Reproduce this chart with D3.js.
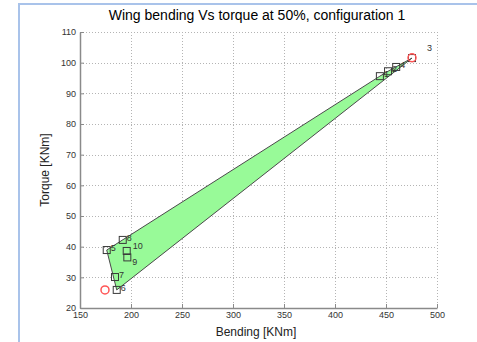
<!DOCTYPE html>
<html>
<head>
<meta charset="utf-8">
<script src="https://cdn.jsdelivr.net/npm/d3@7"></script>
<style>
  html, body { margin: 0; padding: 0; background: #fff; }
  svg { display: block; font-family: "Liberation Sans", Arial, sans-serif; }
</style>
</head>
<body>
<svg id="chart" width="477" height="342"></svg>
<script>
// ---- data ----
const pointLabels = ["1", "2", "3", "4", "5", "6", "7", "8", "9", "10"];
const bending = [444, 452, 475.5, 460, 176.2, 186, 184.3, 191.9, 196.4, 195.8];
const torque  = [95.6, 97.2, 101.5, 98.6, 38.9, 25.9, 30.1, 42.2, 36.5, 38.6];
const markBending = [174.5, 475.5];
const markTorque  = [25.9, 101.6];
const xTicks = [150, 200, 250, 300, 350, 400, 450, 500];
const yTicks = [20, 30, 40, 50, 60, 70, 80, 90, 100, 110];
const titleText = "Wing bending Vs torque at 50%, configuration 1";
const xLabel = "Bending [KNm]";
const yLabel = "Torque [KNm]";

// ---- layout ----
const svg = d3.select("#chart");
const L = 80, R = 437, T = 32, B = 308;
const x = d3.scaleLinear().domain([150, 500]).range([L, R]);
const y = d3.scaleLinear().domain([20, 110]).range([B, T]);

// frame (light blue border)
svg.append("line").attr("x1", 19).attr("x2", 19).attr("y1", 3).attr("y2", 342)
  .attr("stroke", "#a9c3ea").attr("stroke-width", 2);
svg.append("line").attr("x1", 18).attr("x2", 477).attr("y1", 4).attr("y2", 4)
  .attr("stroke", "#a9c3ea").attr("stroke-width", 2);

// grid
const grid = svg.append("g").attr("stroke", "#b4b4b4").attr("stroke-width", 1)
  .attr("stroke-dasharray", "1,2");
grid.selectAll("line.v").data(xTicks.slice(1)).join("line")
  .attr("x1", d => Math.round(x(d)) + 0.5).attr("x2", d => Math.round(x(d)) + 0.5)
  .attr("y1", T).attr("y2", B);
grid.selectAll("line.h").data(yTicks.slice(1)).join("line")
  .attr("x1", L).attr("x2", R)
  .attr("y1", d => Math.round(y(d)) + 0.5).attr("y2", d => Math.round(y(d)) + 0.5);

// polygon envelope (convex hull of the points)
const pts = bending.map((b, i) => [x(b), y(torque[i])]);
const hull = d3.polygonHull(pts);
svg.append("path")
  .attr("d", "M" + hull.map(p => p.join(",")).join("L") + "Z")
  .attr("fill", "#98fa98").attr("stroke", "#4a4a4a").attr("stroke-width", 1);

// axes
const xAxis = d3.axisBottom(x).tickValues(xTicks).tickSize(-4).tickSizeOuter(0).tickPadding(4)
  .tickFormat(d3.format("d"));
const yAxis = d3.axisLeft(y).tickValues(yTicks).tickSize(-4).tickSizeOuter(0).tickPadding(4)
  .tickFormat(d3.format("d"));
const gx = svg.append("g").attr("transform", `translate(0,${B})`).call(xAxis);
const gy = svg.append("g").attr("transform", `translate(${L},0)`).call(yAxis);
[gx, gy].forEach(g => {
  g.select(".domain").attr("stroke", "#8a8a8a").attr("stroke-width", 1.5);
  g.selectAll(".tick line").attr("stroke", "#8a8a8a");
  g.selectAll(".tick text").attr("fill", "#333").attr("font-size", 9)
    .attr("font-family", "Liberation Sans, Arial, sans-serif");
});

// square markers
svg.append("g").selectAll("rect").data(pts).join("rect")
  .attr("x", d => d[0] - 3.5).attr("y", d => d[1] - 3.5)
  .attr("width", 7).attr("height", 7)
  .attr("fill", "none").attr("stroke", "#3a3a3a").attr("stroke-width", 1);

// red circles
svg.append("g").selectAll("circle").data(markBending).join("circle")
  .attr("cx", d => x(d)).attr("cy", (d, i) => y(markTorque[i])).attr("r", 4)
  .attr("fill", "none").attr("stroke", "#ff5555").attr("stroke-width", 1.5);

// point labels
const labelShift = { "3": [15, -10], "9": [5, 4], "10": [6, -5] };
svg.append("g").selectAll("text").data(pts).join("text")
  .attr("x", (d, i) => d[0] + (labelShift[pointLabels[i]] ? labelShift[pointLabels[i]][0] : 4))
  .attr("y", (d, i) => d[1] + (labelShift[pointLabels[i]] ? labelShift[pointLabels[i]][1] : -2))
  .attr("dy", "0.35em")
  .attr("font-size", 9).attr("fill", "#333")
  .text((d, i) => pointLabels[i]);

// titles
svg.append("text").attr("x", 257).attr("y", 20).attr("text-anchor", "middle")
  .attr("font-size", 14).attr("fill", "#000").text(titleText);
svg.append("text").attr("x", 256).attr("y", 336).attr("text-anchor", "middle")
  .attr("font-size", 12).attr("fill", "#222").text(xLabel);
svg.append("text").attr("transform", `translate(49,${(T + B) / 2}) rotate(-90)`)
  .attr("text-anchor", "middle").attr("font-size", 12).attr("fill", "#222").text(yLabel);
</script>
</body>
</html>
